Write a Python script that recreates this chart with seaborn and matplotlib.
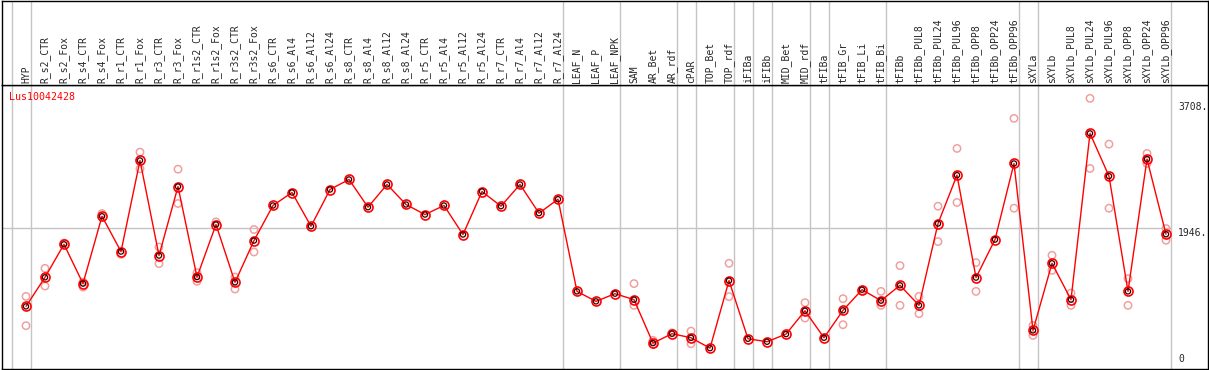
import numpy as np
import pandas as pd
import matplotlib
matplotlib.use('Agg')
import matplotlib.pyplot as plt
import seaborn as sns

samples = ['HYP', 'R_s2_CTR', 'R_s2_Fox', 'R_s4_CTR', 'R_s4_Fox', 'R_r1_CTR', 'R_r1_Fox',
           'R_r3_CTR', 'R_r3_Fox', 'R_r1s2_CTR', 'R_r1s2_Fox', 'R_r3s2_CTR', 'R_r3s2_Fox',
           'R_s6_CTR', 'R_s6_Al4', 'R_s6_Al12', 'R_s6_Al24', 'R_s8_CTR', 'R_s8_Al4',
           'R_s8_Al12', 'R_s8_Al24', 'R_r5_CTR', 'R_r5_Al4', 'R_r5_Al12', 'R_r5_Al24',
           'R_r7_CTR', 'R_r7_Al4', 'R_r7_Al12', 'R_r7_Al24', 'LEAF_N', 'LEAF_P', 'LEAF_NPK',
           'SAM', 'AR_Bet', 'AR_rdf', 'cPAR', 'TOP_Bet', 'TOP_rdf', 'iFIBa', 'iFIBb',
           'MID_Bet', 'MID_rdf', 'tFIBa', 'tFIB_Gr', 'tFIB_Li', 'tFIB_Bi', 'tFIBb',
           'tFIBb_PUL8', 'tFIBb_PUL24', 'tFIBb_PUL96', 'tFIBb_OPP8', 'tFIBb_OPP24',
           'tFIBb_OPP96', 'sXYLa', 'sXYLb', 'sXYLb_PUL8', 'sXYLb_PUL24', 'sXYLb_PUL96',
           'sXYLb_OPP8', 'sXYLb_OPP24', 'sXYLb_OPP96']

means = [851, 1258, 1721, 1170, 2114, 1619, 2896, 1563, 2531, 1262, 1998, 1188, 1773,
         2265, 2447, 1974, 2489, 2630, 2241, 2560, 2279, 2138, 2265, 1858, 2461,
         2255, 2560, 2157, 2353, 1061, 921, 1029,
         945, 336, 468, 411, 265, 1212, 397, 355, 462, 790, 411, 795, 1085, 931, 1146,
         865, 2012, 2690, 1254, 1787, 2854, 514, 1455, 945, 3276, 2676, 1061, 2915, 1862]

replicates = [[991, 580], [1384, 1136], [1740], [1122, 1192], [2152], [1581], [3013, 2779],
              [1683, 1450], [2774, 2293], [1324, 1202], [2035], [1262, 1094], [1928, 1613],
              [], [], [], [], [], [], [], [], [], [], [], [], [], [], [], [], [], [], [],
              [1170, 865], [374, 317], [480], [504, 327], [], [1455, 987], [], [], [],
              [903, 687], [], [959, 594], [1070], [1061, 865], [1422, 865],
              [991, 748], [2255, 1759], [3065, 2307], [1464, 1061], [], [3486, 2227],
              [584, 444], [1567, 1356], [1038, 865], [3767, 2784], [3125, 2227],
              [1240, 865], [2995, 2854], [1942, 1778]]

# last sample index of each group (grey separators drawn after them)
group_ends = [-1, 0, 28, 31, 34, 35, 37, 38, 39, 41, 42, 45, 52, 53, 60]
ytick_vals = [0, 1946, 3708]
gene = 'Lus10042428'

mean_df = pd.DataFrame({'pos': np.arange(len(samples)), 'value': means})
rep_df = pd.DataFrame([(i, v) for i, reps in enumerate(replicates) for v in reps],
                      columns=['pos', 'value'])

sns.set_style('white')
plt.rcParams['font.family'] = ['DejaVu Sans Mono', 'DejaVu Sans']

W, H = 1209, 370
fig = plt.figure(figsize=(W / 100, H / 100), dpi=100)
left, right = 1.5, 1207.5
top_head, sep, bottom = 0.5, 85, 368.5
ax = fig.add_axes([left / W, (H - bottom) / H, (right - left) / W, (bottom - sep) / H])
axh = fig.add_axes([left / W, (H - sep) / H, (right - left) / W, (sep - top_head) / H], sharex=ax)

xmin, xmax = (left - 26) / 19, (right - 26) / 19
ax.set_xlim(xmin, xmax)
ax.set_ylim(-20, 3954)
axh.set_ylim(0, 1)

for a in (ax, axh):
    for g in group_ends:
        a.axvline(g + 0.25, color='#c4c4c4', lw=1, zorder=0)
    a.set_xticks([])
    a.set_yticks([])
    a.set_xlabel('')
    a.set_ylabel('')
    for s in a.spines.values():
        s.set_color('black')
        s.set_linewidth(1)

ax.hlines(1946, xmin, group_ends[-1] + 0.25, color='#c4c4c4', lw=1, zorder=0)

sns.scatterplot(data=rep_df, x='pos', y='value', ax=ax, marker='o', s=28,
                facecolors='none', edgecolor='#f0a0a0', linewidth=1.1, zorder=2)
sns.lineplot(data=mean_df, x='pos', y='value', ax=ax, color='red', lw=1,
             marker='o', markersize=6.5, markerfacecolor='none', markeredgecolor='red',
             markeredgewidth=1.2, zorder=3)
# dark inner ring of the mean markers
sns.scatterplot(data=mean_df, x='pos', y='value', ax=ax, marker='o', s=14,
                facecolors='none', edgecolor='#300000', linewidth=0.9, zorder=4)
ax.set_xlabel('')
ax.set_ylabel('')
ax.set_xticks([])
ax.set_yticks([])

# sample names in the header
for i, name in enumerate(samples):
    axh.text(i, 0.025, name, rotation=90, ha='center', va='bottom', fontsize=7)

# value labels on the right
lab_x = (1178 - 26) / 19
for v in ytick_vals:
    if v == 0:
        ax.annotate('0', xy=(lab_x, 0), xycoords=('data', 'axes fraction'),
                    xytext=(0, 3.5), textcoords='offset points', ha='left', va='bottom',
                    fontsize=7)
    else:
        ax.annotate(f'{v}.', xy=(lab_x, v), xytext=(0, -3.4), textcoords='offset points',
                    ha='left', va='center', fontsize=7)

ax.text(0.0062, 0.957, gene, transform=ax.transAxes, color='red', fontsize=7.2,
        ha='left', va='center')

fig.savefig('out.png', dpi=100)
